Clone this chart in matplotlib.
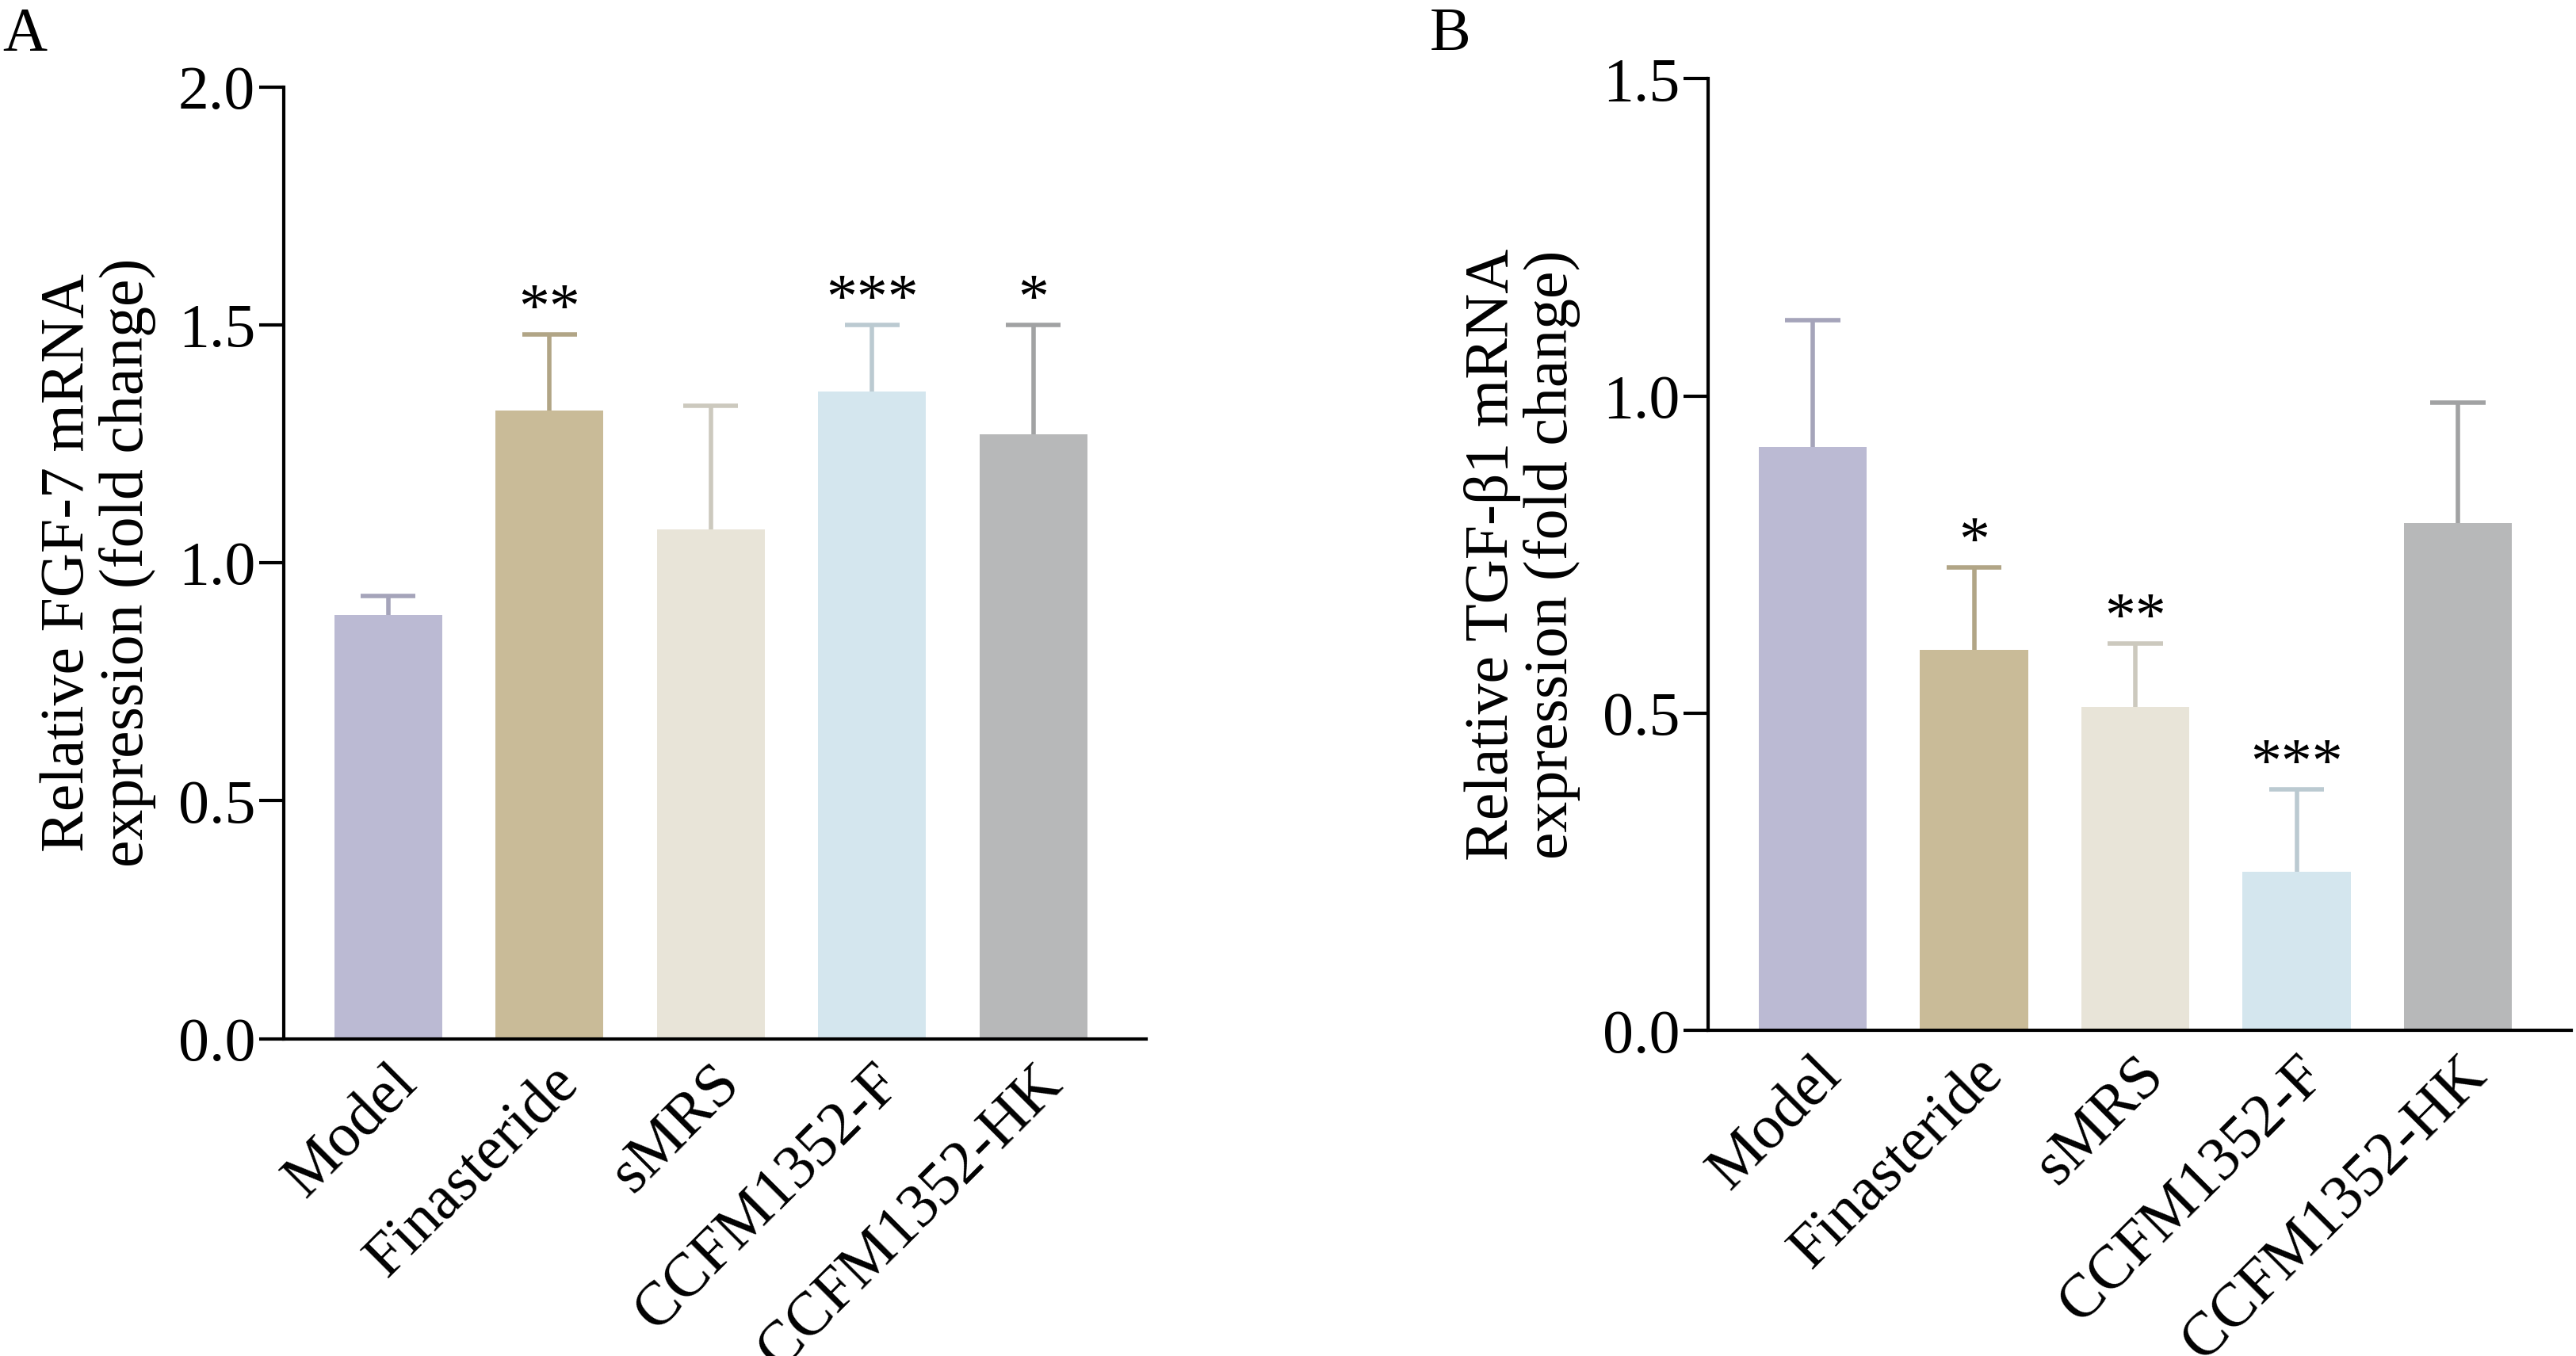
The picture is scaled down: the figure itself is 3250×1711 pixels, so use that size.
import matplotlib
matplotlib.use("Agg")
import matplotlib.pyplot as plt
import numpy as np

plt.rcParams['font.family'] = ['Liberation Serif', 'DejaVu Serif']

groups = ["Model", "Finasteride", "sMRS", "CCFM1352-F", "CCFM1352-HK"]
colors = ["#bbbad3", "#c9bb98", "#e8e4d8", "#d4e6ee", "#b7b8b9"]

fgf7_mean = [0.89, 1.32, 1.07, 1.36, 1.27]
fgf7_err = [0.04, 0.16, 0.26, 0.14, 0.23]
fgf7_sig = ["", "**", "", "***", "*"]

tgfb1_mean = [0.92, 0.60, 0.51, 0.25, 0.80]
tgfb1_err = [0.20, 0.13, 0.10, 0.13, 0.19]
tgfb1_sig = ["", "*", "**", "***", ""]

FS = 56

fig = plt.figure(figsize=(32.5, 17.11), dpi=100)


def panel(rect, mean, err, sig, ymax, ystep, ylabel, letter, lx, ly):
    ax = fig.add_axes(rect)
    x = np.arange(len(groups))
    ax.bar(x, mean, width=0.67, color=colors, zorder=2)
    for xi, m, e, c, s in zip(x, mean, err, colors, sig):
        ec = [v * 0.88 for v in matplotlib.colors.to_rgb(c)]
        # upper error only: stem + top cap
        ax.vlines(xi, m, m + e, colors=[ec], linewidth=4, zorder=1)
        ax.hlines(m + e, xi - 0.17, xi + 0.17, colors=[ec], linewidth=4, zorder=1)
        if s:
            ax.text(xi, m + e - ymax * 0.005, s, ha="center", va="bottom", fontsize=FS)
    ax.set_xlim(-0.65, 4.7)
    ax.set_ylim(0, ymax)
    ticks = np.arange(0, ymax + 1e-9, ystep)
    ax.set_yticks(ticks)
    ax.set_yticklabels([f"{v:.1f}" for v in ticks])
    ax.set_xticks(x)
    ax.set_xticklabels(groups, rotation=45, ha="right", rotation_mode="anchor")
    for sp in ["top", "right"]:
        ax.spines[sp].set_visible(False)
    for sp in ["left", "bottom"]:
        ax.spines[sp].set_linewidth(3)
    ax.tick_params(axis="both", labelsize=FS, width=3, length=22)
    ax.tick_params(axis="x", length=0, pad=14)
    ax.set_ylabel(ylabel, fontsize=FS, linespacing=1.05, labelpad=20)
    fig.text(lx, ly, letter, fontsize=FS, va="top")
    return ax


panel([0.110, 0.234, 0.335, 0.702], fgf7_mean, fgf7_err, fgf7_sig, 2.0, 0.5,
      "Relative FGF-7 mRNA\nexpression (fold change)", "A", 0.001, 0.995)
panel([0.663, 0.240, 0.335, 0.702], tgfb1_mean, tgfb1_err, tgfb1_sig, 1.5, 0.5,
      "Relative TGF-β1 mRNA\nexpression (fold change)", "B", 0.555, 0.995)

fig.savefig("out.png", dpi=100)
